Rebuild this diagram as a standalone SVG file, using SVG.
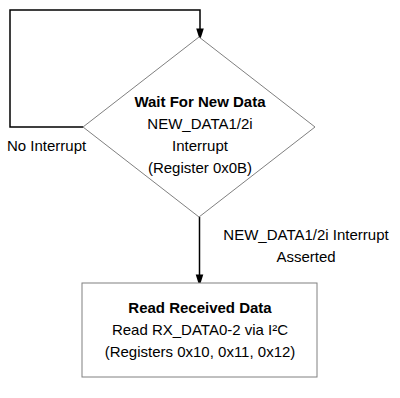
<svg xmlns="http://www.w3.org/2000/svg" width="400" height="398" viewBox="0 0 400 398">
<style>
text{font-family:"Liberation Sans",Arial,sans-serif;font-size:15px;fill:#000}
.b{font-weight:bold}
.shape{fill:#fff;stroke:#808080;stroke-width:1}
.conn{fill:none;stroke:#000;stroke-width:1.5}
</style>
<defs>
<marker id="ah" markerWidth="12" markerHeight="19" refX="12" refY="6" orient="auto" markerUnits="userSpaceOnUse" viewBox="0 0 19 12">
<path d="M0,0 L19,6 L0,12 Z" fill="#000"/>
</marker>
</defs>
<rect width="400" height="398" fill="#fff"/>
<g id="connectors">
<path class="conn" d="M83,127 H10 V10 H200 V36" marker-end="url(#ah)"/>
<path class="conn" d="M199.5,217 V282" marker-end="url(#ah)"/>
</g>
<g id="wait">
<polygon class="shape" points="199,37 315,127 199,217 83,127"/>
<text x="200" y="107" text-anchor="middle" class="b">Wait For New Data</text>
<text x="200" y="129" text-anchor="middle">NEW_DATA1/2i</text>
<text x="200" y="151" text-anchor="middle">Interrupt</text>
<text x="200" y="173" text-anchor="middle">(Register 0x0B)</text>
</g>
<g id="label-no">
<text x="7" y="151">No Interrupt</text>
</g>
<g id="label-yes">
<text x="306" y="240" text-anchor="middle">NEW_DATA1/2i Interrupt</text>
<text x="306" y="262" text-anchor="middle">Asserted</text>
</g>
<g id="read">
<rect class="shape" x="82" y="283" width="235" height="94" stroke="#999"/>
<text x="200" y="313" text-anchor="middle" class="b">Read Received Data</text>
<text x="200" y="335" text-anchor="middle">Read RX_DATA0-2 via I²C</text>
<text x="200" y="357" text-anchor="middle">(Registers 0x10, 0x11, 0x12)</text>
</g>
</svg>
